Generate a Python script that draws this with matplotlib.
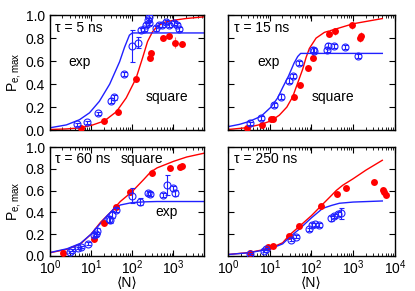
import matplotlib
matplotlib.use("Agg")
import matplotlib.pyplot as plt
import matplotlib.ticker as ticker

plt.rcParams["font.family"] = ["Liberation Sans", "DejaVu Sans"]
plt.rcParams["font.size"] = 10
plt.rcParams["mathtext.fontset"] = "custom"
plt.rcParams["mathtext.rm"] = "Liberation Sans"
plt.rcParams["mathtext.it"] = "Liberation Sans:italic"

BLUE = "#2020ff"
RED = "#ff0000"
RED_ERR = "#ff7070"

# ---- tau = 5 ns ----
tl_exp_curve_n = [1, 2.5, 5.2, 9.1, 15.8, 28.2, 49, 64.6, 85, 100, 5500]
tl_exp_curve_p = [0.02, 0.045, 0.09, 0.15, 0.25, 0.40, 0.594, 0.72, 0.826, 0.845, 0.845]
tl_sq_curve_n = [1, 2.5, 5.6, 11, 21, 41, 71, 123, 178, 234, 309, 407, 631, 1000, 1950, 5500]
tl_sq_curve_p = [0.005, 0.01, 0.02, 0.045, 0.08, 0.16, 0.28, 0.45, 0.63, 0.77, 0.855, 0.905,
                 0.94, 0.955, 0.97, 0.985]
tl_exp_n = [4.6, 7.9, 14.6, 29.5, 35.5, 62, 100, 135, 162, 195, 214, 234, 257, 250, 372, 446,
            537, 648, 776, 1023, 1236, 1350]
tl_exp_p = [0.049, 0.067, 0.145, 0.255, 0.284, 0.487, 0.73, 0.76, 0.87, 0.88, 0.913, 0.957,
            0.98, 0.93, 0.884, 0.913, 0.913, 0.94, 0.913, 0.93, 0.913, 0.88]
tl_exp_e = [0.015, 0.015, 0.015, 0.02, 0.02, 0.02, 0.14, 0.05, 0.02, 0.02, 0.02, 0.02, 0.02,
            0.02, 0.02, 0.02, 0.02, 0.02, 0.02, 0.02, 0.02, 0.02]
tl_sq_n = [5.6, 21, 44.5, 123, 268, 282, 567, 776, 1090, 1630]
tl_sq_p = [0.02, 0.08, 0.155, 0.445, 0.63, 0.667, 0.80, 0.817, 0.76, 0.745]
tl_sq_e = [0.01, 0.01, 0.01, 0.02, 0.03, 0.02, 0.02, 0.02, 0.05, 0.02]

# ---- tau = 15 ns ----
tr_exp_curve_n = [1, 1.9, 3.2, 6.2, 10.7, 15.5, 20.4, 28.2, 38, 46.8, 55, 5000]
tr_exp_curve_p = [0.03, 0.05, 0.075, 0.12, 0.2, 0.28, 0.37, 0.47, 0.58, 0.64, 0.667, 0.667]
tr_sq_curve_n = [1, 2.7, 6.2, 10.7, 17, 25.7, 35.5, 46.8, 61.7, 74, 89, 129, 204, 389, 1000,
                 2040, 5000]
tr_sq_curve_p = [0.005, 0.02, 0.05, 0.08, 0.13, 0.2, 0.29, 0.41, 0.53, 0.63, 0.71, 0.80, 0.85,
                 0.88, 0.925, 0.945, 0.97]
tr_exp_n = [3.4, 6.2, 12.9, 18.7, 29.6, 37, 49, 107, 117, 230, 245, 355, 650, 1290]
tr_exp_p = [0.058, 0.107, 0.217, 0.29, 0.43, 0.47, 0.585, 0.70, 0.69, 0.70, 0.735, 0.73, 0.724,
            0.643]
tr_exp_e = [0.015, 0.015, 0.015, 0.02, 0.02, 0.02, 0.02, 0.02, 0.02, 0.02, 0.02, 0.02, 0.02, 0.02]
tr_sq_n = [2.9, 6.4, 10.8, 12.2, 38, 53.5, 84, 111, 259, 373, 939, 1420, 1550]
tr_sq_p = [0.02, 0.043, 0.10, 0.10, 0.29, 0.39, 0.54, 0.63, 0.84, 0.86, 0.913, 0.80, 0.82]
tr_sq_e = [0.01, 0.01, 0.01, 0.01, 0.01, 0.01, 0.03, 0.03, 0.03, 0.03, 0.03, 0.03, 0.03]

# ---- tau = 60 ns ----
bl_exp_curve_n = [1, 2.6, 5.5, 10, 17, 24.5, 35.5, 51, 98, 200, 400, 5500]
bl_exp_curve_p = [0.03, 0.065, 0.115, 0.2, 0.30, 0.37, 0.43, 0.468, 0.49, 0.497, 0.5, 0.5]
bl_sq_curve_n = [1, 2.6, 5.5, 10, 17, 29.5, 51, 98, 186, 275, 400, 1000, 2090, 5500]
bl_sq_curve_p = [0.028, 0.06, 0.11, 0.2, 0.31, 0.40, 0.50, 0.59, 0.70, 0.77, 0.81, 0.87, 0.91,
                 0.945]
bl_exp_n = [3.0, 3.5, 4.8, 5.7, 8.3, 12, 13, 14, 27, 29, 32, 39, 99, 157, 236, 274, 560, 695,
            1000, 1070]
bl_exp_p = [0.037, 0.05, 0.068, 0.083, 0.11, 0.19, 0.2, 0.23, 0.34, 0.33, 0.38, 0.42, 0.555,
            0.50, 0.576, 0.567, 0.56, 0.653, 0.62, 0.58]
bl_exp_e = [0.01, 0.01, 0.01, 0.01, 0.015, 0.02, 0.02, 0.03, 0.03, 0.03, 0.03, 0.02, 0.065,
            0.03, 0.02, 0.02, 0.02, 0.09, 0.02, 0.03]
bl_sq_n = [2.1, 11.6, 21, 41, 87, 302, 835, 1410, 1610]
bl_sq_p = [0.028, 0.154, 0.30, 0.446, 0.59, 0.766, 0.807, 0.82, 0.828]
bl_sq_e = [0.01, 0.015, 0.01, 0.02, 0.03, 0.03, 0.02, 0.02, 0.02]

# ---- tau = 250 ns ----
br_exp_curve_n = [1, 3.2, 10, 20.4, 29.5, 51, 100, 186, 309, 468, 1000, 5000]
br_exp_curve_p = [0.012, 0.028, 0.062, 0.11, 0.17, 0.245, 0.35, 0.437, 0.465, 0.484, 0.495,
                  0.505]
br_sq_curve_n = [1, 3.2, 10, 20.4, 29.5, 51, 100, 170, 309, 389, 562, 1000, 2040, 5000]
br_sq_curve_p = [0.012, 0.03, 0.068, 0.12, 0.19, 0.27, 0.37, 0.46, 0.56, 0.60, 0.65, 0.71,
                 0.79, 0.88]
br_exp_n = [3.4, 7.4, 8.2, 32, 43, 86, 103, 124, 155, 295, 355, 425, 515]
br_exp_p = [0.02, 0.046, 0.06, 0.15, 0.175, 0.244, 0.283, 0.29, 0.283, 0.345, 0.367, 0.385, 0.39]
br_exp_e = [0.01, 0.01, 0.01, 0.015, 0.015, 0.015, 0.015, 0.015, 0.015, 0.02, 0.02, 0.02, 0.05]
br_sq_n = [3.4, 9, 11.8, 28.6, 51, 170, 410, 655, 3090, 5150, 5400, 6150]
br_sq_p = [0.03, 0.077, 0.092, 0.18, 0.274, 0.46, 0.567, 0.628, 0.683, 0.606, 0.59, 0.56]
br_sq_e = [0.01, 0.01, 0.01, 0.01, 0.01, 0.01, 0.01, 0.01, 0.01, 0.01, 0.01, 0.01]

panels = [
    dict(rect=[0.1205, 0.553, 0.371, 0.395], xmax=5500, tau="τ = 5 ns",
         ec=(tl_exp_curve_n, tl_exp_curve_p), sc=(tl_sq_curve_n, tl_sq_curve_p),
         ed=(tl_exp_n, tl_exp_p, tl_exp_e), sd=(tl_sq_n, tl_sq_p, tl_sq_e),
         ylab=True, xlab=False,
         exp_pos=(0.195, 0.59), sq_pos=(0.76, 0.287)),
    dict(rect=[0.5495, 0.553, 0.402, 0.395], xmax=10000, tau="τ = 15 ns",
         ec=(tr_exp_curve_n, tr_exp_curve_p), sc=(tr_sq_curve_n, tr_sq_curve_p),
         ed=(tr_exp_n, tr_exp_p, tr_exp_e), sd=(tr_sq_n, tr_sq_p, tr_sq_e),
         ylab=False, xlab=False,
         exp_pos=(0.24, 0.59), sq_pos=(0.63, 0.287)),
    dict(rect=[0.1205, 0.121, 0.371, 0.373], xmax=5500, tau="τ = 60 ns",
         ec=(bl_exp_curve_n, bl_exp_curve_p), sc=(bl_sq_curve_n, bl_sq_curve_p),
         ed=(bl_exp_n, bl_exp_p, bl_exp_e), sd=(bl_sq_n, bl_sq_p, bl_sq_e),
         ylab=True, xlab=True,
         exp_pos=(0.76, 0.40), sq_pos=(0.60, 0.89)),
    dict(rect=[0.5495, 0.121, 0.402, 0.373], xmax=10000, tau="τ = 250 ns",
         ec=(br_exp_curve_n, br_exp_curve_p), sc=(br_sq_curve_n, br_sq_curve_p),
         ed=(br_exp_n, br_exp_p, br_exp_e), sd=(br_sq_n, br_sq_p, br_sq_e),
         ylab=False, xlab=True,
         exp_pos=None, sq_pos=None),
]

fig = plt.figure(figsize=(4.15, 2.91), dpi=100)

for p in panels:
    ax = fig.add_axes(p["rect"])
    ax.set_xscale("log")
    ax.set_xlim(1, p["xmax"])
    ax.set_ylim(0, 1.0)

    n, v, e = p["sd"]
    ax.errorbar(n, v, yerr=e, fmt="o", color=RED, ecolor=RED_ERR, ms=5, mew=0,
                elinewidth=0.8, capsize=1.8, capthick=0.8, zorder=3)
    n, v, e = p["ed"]
    ax.errorbar(n, v, yerr=e, fmt="o", mfc="none", mec=BLUE, ecolor=BLUE, ms=5, mew=0.8,
                elinewidth=0.8, capsize=1.8, capthick=0.8, zorder=4)

    ax.plot(*p["sc"], color=RED, lw=1.0, zorder=2)
    ax.plot(*p["ec"], color=BLUE, lw=1.0, zorder=2)

    ax.text(0.035, 0.885 if not p["xlab"] else 0.89, p["tau"], transform=ax.transAxes,
            ha="left", va="center", fontsize=10)
    if p["exp_pos"] is not None:
        ax.text(*p["exp_pos"], "exp", transform=ax.transAxes, ha="center", va="center",
                fontsize=10)
    if p["sq_pos"] is not None:
        ax.text(*p["sq_pos"], "square", transform=ax.transAxes, ha="center", va="center",
                fontsize=10)

    ax.yaxis.set_major_locator(ticker.MultipleLocator(0.2))
    ax.yaxis.set_major_formatter(ticker.FormatStrFormatter("%.1f"))
    ax.xaxis.set_major_locator(ticker.LogLocator(base=10, numticks=10))
    ax.xaxis.set_minor_locator(ticker.LogLocator(base=10, subs=range(2, 10), numticks=20))
    ax.xaxis.set_minor_formatter(ticker.NullFormatter())
    ax.tick_params(which="both", direction="in", top=True, right=True, labelsize=10)
    ax.tick_params(which="major", length=4, width=0.8)
    ax.tick_params(which="minor", length=2, width=0.6)
    ax.tick_params(axis="x", which="major", pad=2)
    for s in ax.spines.values():
        s.set_linewidth(1.0)

    if p["ylab"]:
        ax.set_ylabel(r"P$_{\mathrm{e,max}}$", labelpad=2)
    else:
        ax.tick_params(labelleft=False)
    if p["xlab"]:
        ax.set_xlabel("⟨N⟩", labelpad=-1, fontsize=10)
    else:
        ax.tick_params(labelbottom=False)

fig.savefig("out.png", dpi=100)
